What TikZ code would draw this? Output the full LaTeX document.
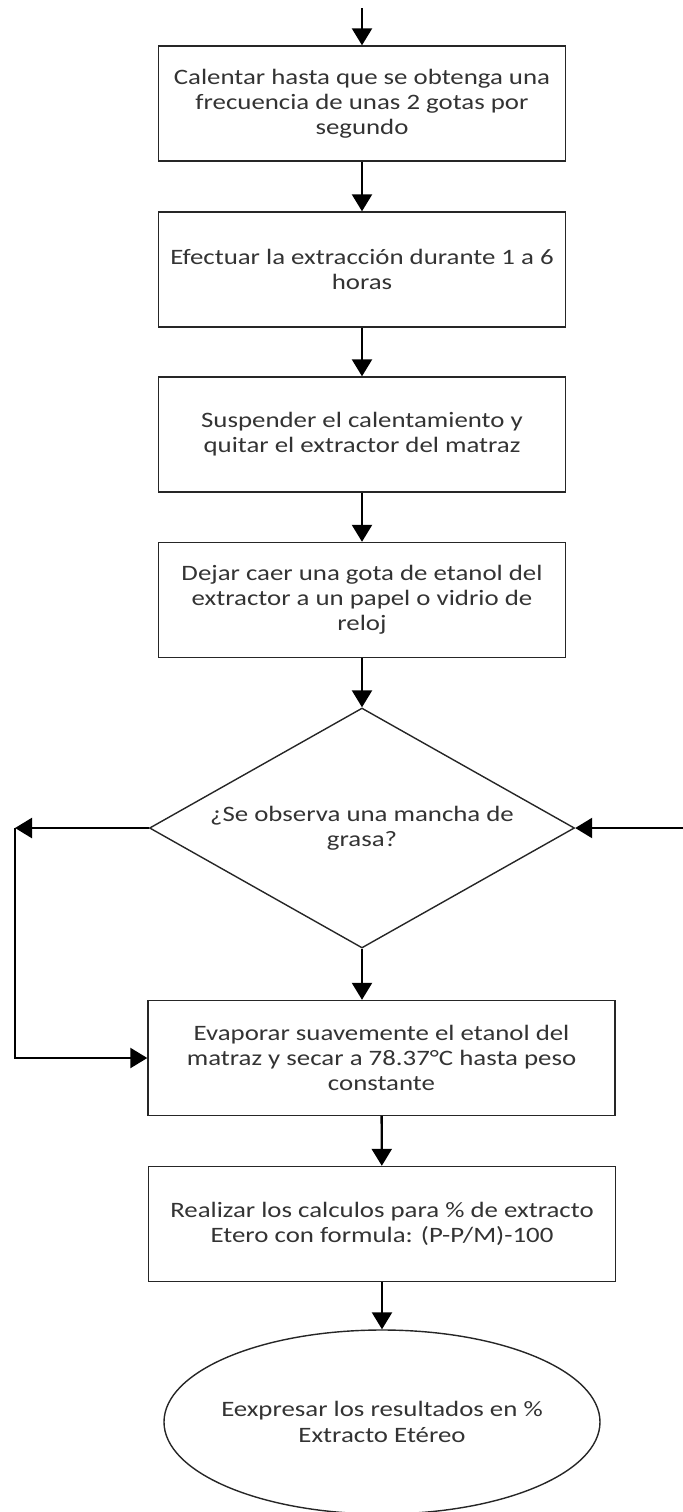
\documentclass[tikz,border=0pt]{standalone}
\usepackage{fontspec}
\setmainfont[FakeStretch=1.22]{Carlito}
\usetikzlibrary{shapes.geometric,arrows.meta}
\begin{document}
\begin{tikzpicture}[x=0.5pt,y=-0.5pt,
        every node/.style={font=\fontsize{11}{12.6}\selectfont,text=black!80},
        paso/.style={draw=black!85,line width=0.7pt,minimum width=203.5pt,minimum height=57.5pt,align=center,inner sep=0pt},
        pasoancho/.style={paso,minimum width=233.5pt},
        decision/.style={draw=black!85,line width=0.7pt,diamond,aspect=1.77,minimum width=212.5pt,minimum height=120pt,align=center,inner sep=0pt},
        fin/.style={draw=black!85,line width=0.7pt,ellipse,minimum width=218pt,minimum height=92pt,align=center,inner xsep=-10pt,inner ysep=0pt},
        flecha/.style={line width=1.2pt,-{Triangle[length=8.5pt,width=10pt]}}]
    \useasboundingbox (0,0) rectangle (683,1512);
    \coordinate (inicio) at (362,8);
    \node[paso] (calentar) at (362,103.5) {Calentar hasta que se obtenga una\\frecuencia de unas 2 gotas por\\segundo};
    \node[paso] (extraer) at (362,269.5) {Efectuar la extracción durante 1 a 6\\horas};
    \node[paso] (suspender) at (362,434.5) {Suspender el calentamiento y\\quitar el extractor del matraz};
    \node[paso] (reloj) at (362,600) {Dejar caer una gota de etanol del\\extractor a un papel o vidrio de\\reloj};
    \node[decision] (grasa) at (362,828) {¿Se observa una mancha de\\grasa?};
    \node[pasoancho] (evaporar) at (381.5,1058) {Evaporar suavemente el etanol del\\matraz y secar a 78.37°C hasta peso\\constante};
    \node[pasoancho] (calculos) at (382,1224) {Realizar los calculos para \% de extracto\\Etero con formula: (P-P/M)-100};
    \node[fin] (expresar) at (382,1422) {Eexpresar los resultados en \%\\Extracto Etéreo};
    \coordinate (izq) at (15,828);
    \coordinate (der) at (683,828);
    \draw[flecha] (inicio) -- (calentar);
    \draw[flecha] (calentar) -- (extraer);
    \draw[flecha] (extraer) -- (suspender);
    \draw[flecha] (suspender) -- (reloj);
    \draw[flecha] (reloj) -- (grasa);
    \draw[flecha] (grasa.south) -- (grasa.south |- evaporar.north);
    \draw[flecha] (grasa.west) -- (izq);
    \draw[flecha] (izq) |- (evaporar.west);
    \draw[flecha] (der) -- (grasa.east);
    \draw[flecha] (evaporar) -- (calculos);
    \draw[flecha] (calculos) -- (expresar);
\end{tikzpicture}
\end{document}
